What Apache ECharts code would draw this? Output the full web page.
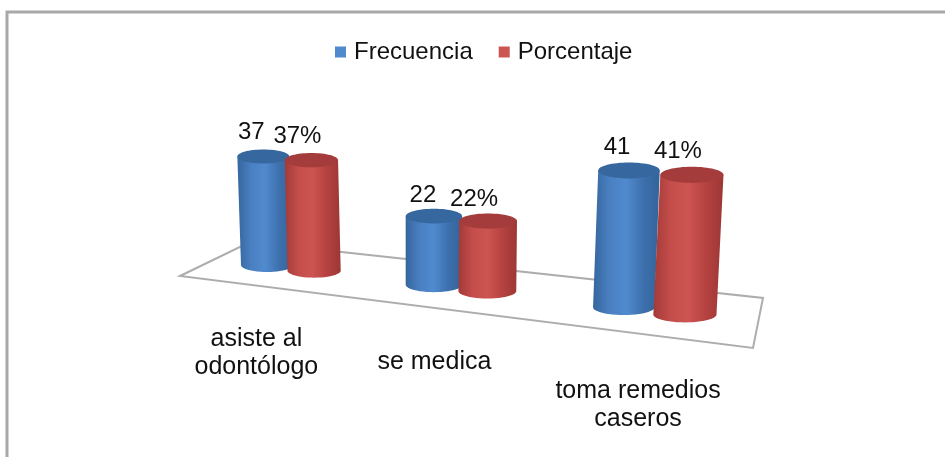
<!DOCTYPE html>
<html><head><meta charset="utf-8">
<style>html,body{margin:0;padding:0;background:#fff}#c{width:945px;height:457px;filter:blur(0.4px)}</style>
<script src="https://cdn.jsdelivr.net/npm/echarts@6/dist/echarts.min.js"></script>
</head><body><div id="c"></div>
<script>
const categories = ['asiste al\nodontólogo', 'se medica', 'toma remedios\ncaseros'];
const seriesNames = ['Frecuencia', 'Porcentaje'];
const frecuencia = [37, 22, 41];
const porcentaje = [37, 22, 41];
const percentSuffix = ['', '%'];

// Scene layout (not data)
const FONT = '"Liberation Sans", Arial, sans-serif';
const PERSP = -0.0605, SLOPE = 0.118, VANISH_X = 435, LEAN = 0.0002;
const PAIR_STEP = 0.295, BASE_WIDTH = 52, BASE_RY = 7;
const labelOffset = [
  [[-12, -24], [-11, -21], [-12, -23]],
  [[-14, -24], [-14, -22], [-14, -23]]
];
const catLabelOffset = [[-34, 85], [-26, 74], [-16, 94]];
const palettes = [
  {side: ['#35669d', '#4a80c2', '#508ace', '#3d70ad', '#33639a'], top: '#36689f'},
  {side: ['#a23a38', '#c54e4b', '#cc5451', '#b54240', '#9c3735'], top: '#a33c3a'}
];

function project(api, u) {
  const w = 1 + PERSP * u;
  const o = api.coord([0, 0]);
  const X0 = api.coord([u, 0])[0];
  const X = X0 / w;
  return {X, Y: o[1] + SLOPE * (X - o[0]), s: 1 / w};
}
function grad(cols) {
  return {type: 'linear', x: 0, y: 0, x2: 1, y2: 0, colorStops: cols.map((c, i) => ({offset: i / (cols.length - 1), color: c}))};
}
function cylinder(sIdx) {
  return function (params, api) {
    const cat = api.value(0), val = api.value(1);
    const u = cat + sIdx * PAIR_STEP;
    const p = project(api, u);
    const h = api.size([0, val])[1] * p.s;
    const rx = BASE_WIDTH / 2 * Math.pow(p.s, 1.3), ry = BASE_RY * p.s;
    const topX = p.X + (p.X - VANISH_X) * LEAN * h, topY = p.Y - h;
    const pts = [[topX - rx, topY], [topX + rx, topY]];
    for (let i = 0; i <= 24; i++) {
      const t = i / 24 * Math.PI;
      pts.push([p.X + rx * Math.cos(t), p.Y + ry * Math.sin(t)]);
    }
    const pal = palettes[sIdx];
    const lo = labelOffset[sIdx][cat];
    return {type: 'group', children: [
      {type: 'polygon', shape: {points: pts}, style: {fill: grad(pal.side)}},
      {type: 'ellipse', shape: {cx: topX, cy: topY, rx: rx, ry: ry}, style: {fill: pal.top}},
      {type: 'text', z2: 10, style: {x: topX + lo[0], y: topY + lo[1], text: val + percentSuffix[sIdx], fill: '#111', font: '24px ' + FONT, align: 'center', verticalAlign: 'middle'}}
    ]};
  };
}
function categoryLabel(params, api) {
  const cat = api.value(0);
  const p = project(api, cat + PAIR_STEP / 2);
  const o = catLabelOffset[cat];
  return {type: 'text', style: {x: p.X + o[0], y: p.Y + o[1], text: categories[cat], fill: '#111', font: '25px ' + FONT, lineHeight: 28, align: 'center', verticalAlign: 'middle'}};
}
const chart = echarts.init(document.getElementById('c'), null, {renderer: 'canvas'});
chart.setOption({
  animation: false,
  backgroundColor: '#fff',
  legend: {
    left: 330, top: 35, itemWidth: 11, itemHeight: 11, itemGap: 26, icon: 'rect',
    data: seriesNames.map((n, i) => ({name: n, itemStyle: {color: palettes[i].side[2]}})),
    textStyle: {fontFamily: FONT, fontSize: 24, color: '#111', padding: [0, 0, 0, 3]}
  },
  grid: {left: 267, top: 118.5, width: 422, height: 146.5},
  xAxis: {type: 'value', min: 0, max: 3, show: false},
  yAxis: {type: 'value', min: 0, max: 50, show: false},
  graphic: [
    {type: 'polyline', z: 0, shape: {points: [[7, 457], [7, 12], [945, 12]]}, style: {stroke: '#a8a8a8', lineWidth: 3, fill: null}},
    {type: 'polygon', z: 0, shape: {points: [[180, 276], [250, 242], [763, 298], [753, 348]]}, style: {stroke: '#adadad', lineWidth: 2, fill: '#fff'}}
  ],
  series: [
    {type: 'custom', name: seriesNames[0], z: 3, coordinateSystem: 'cartesian2d', renderItem: cylinder(0), encode: {x: 0, y: 1}, data: frecuencia.map((v, i) => [i, v]), itemStyle: {color: palettes[0].side[2]}},
    {type: 'custom', name: seriesNames[1], z: 4, coordinateSystem: 'cartesian2d', renderItem: cylinder(1), encode: {x: 0, y: 1}, data: porcentaje.map((v, i) => [i, v]), itemStyle: {color: palettes[1].side[2]}},
    {type: 'custom', z: 5, coordinateSystem: 'cartesian2d', renderItem: categoryLabel, encode: {x: 0}, data: categories.map((c, i) => [i]), silent: true, clip: false}
  ]
});
</script></body></html>
